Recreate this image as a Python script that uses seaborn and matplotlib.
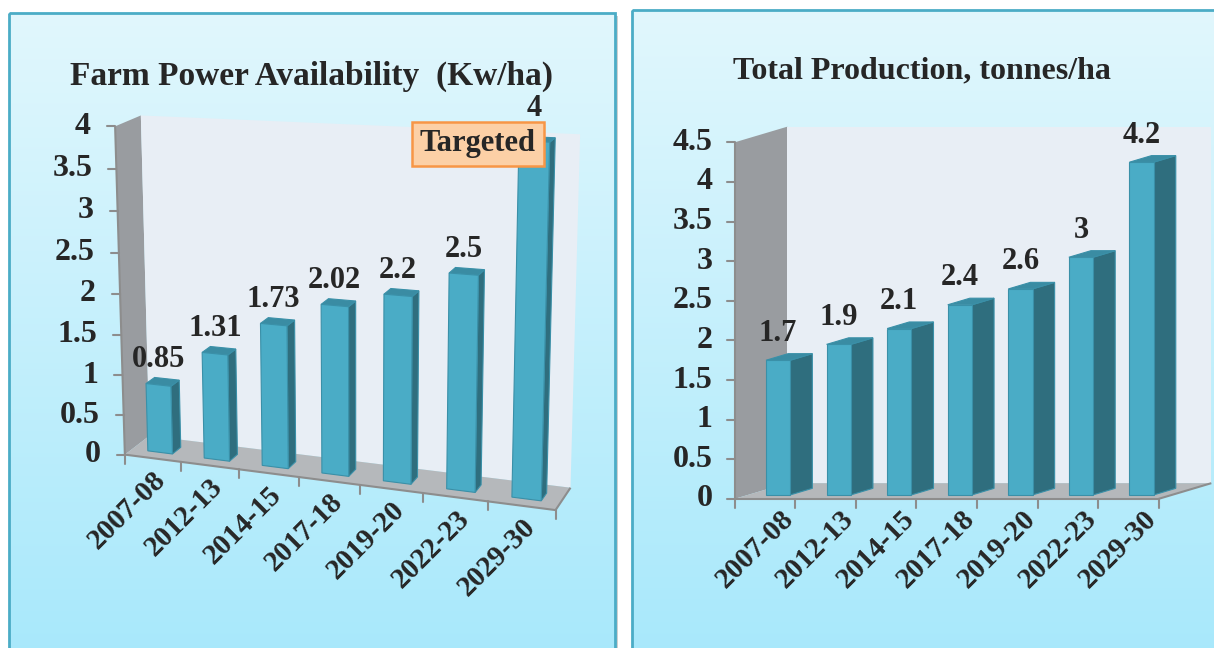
import numpy as np
import matplotlib
matplotlib.use("Agg")
import matplotlib.pyplot as plt
import seaborn as sns
from matplotlib.colors import LinearSegmentedColormap
from matplotlib.patches import Polygon, Rectangle
from matplotlib.transforms import Transform, IdentityTransform

years = ["2007-08", "2012-13", "2014-15", "2017-18", "2019-20", "2022-23", "2029-30"]
farm_power = [0.85, 1.31, 1.73, 2.02, 2.2, 2.5, 4]
production = [1.7, 1.9, 2.1, 2.4, 2.6, 3, 4.2]

W, H = 1214, 648
FRONT, SIDE, TOP, EDGE = "#4aacc6", "#2f6e7e", "#3a8ca3", "#3a90a8"
WALL_SIDE, WALL_BACK, FLOOR, AXIS = "#999ca0", "#e8eef5", "#b5b8bb", "#8d8d8d"

sns.set_style("white")
plt.rcParams["font.family"] = ["Liberation Serif", "DejaVu Serif"]
plt.rcParams["font.weight"] = "bold"


def fit_view(refs, persp=True):
    # camera fit (u=category, v=value, w=depth) -> image pixel
    A, b = [], []
    for (u, v, w), (px, py) in refs:
        A.append([u, v, w, 1, 0, 0, 0, 0, -px * u, -px * v, -px * w]); b.append(px)
        A.append([0, 0, 0, 0, u, v, w, 1, -py * u, -py * v, -py * w]); b.append(py)
    A = np.array(A, float)
    if not persp:
        A[:, 8:] = 0
        A[0::2, 1] = 0
    c = np.linalg.lstsq(A, np.array(b, float), rcond=None)[0]
    if not persp:
        c[8:] = 0
        c[1] = 0

    def view(u, v, w):
        u, v, w = np.broadcast_arrays(np.asarray(u, float), np.asarray(v, float), np.asarray(w, float))
        den = c[8] * u + c[9] * v + c[10] * w + 1
        return ((c[0] * u + c[1] * v + c[2] * w + c[3]) / den,
                (c[4] * u + c[5] * v + c[6] * w + c[7]) / den)
    return view


class Depth(Transform):
    # maps bar data coords (category, value) onto the plane at depth w
    input_dims = output_dims = 2

    def __init__(self, view, w):
        super().__init__()
        self.view, self.w = view, w

    def transform_non_affine(self, values):
        values = np.asarray(values, float).reshape(-1, 2)
        px, py = self.view(values[:, 0], values[:, 1], self.w)
        return np.column_stack([px, H - py])


def draw_panel(ax, view, values, vmax, width, w0, w1, title, title_xy, lab_u,
               tick_gap=22, off=13, lift=None, title_size=23):
    lift = lift or {}
    sns.barplot(x=years, y=values, ax=ax, width=width, color=FRONT, saturation=1,
                edgecolor=EDGE, linewidth=0.8)
    bars = list(ax.patches)
    ax.set_axis_off()
    n = len(years)
    lo, hi = -0.5, n - 0.5

    def poly(pts, **kw):
        u, v, w = np.array(pts, float).T
        px, py = view(u, v, w)
        ax.add_patch(Polygon(np.column_stack([px, H - py]), closed=True,
                             transform=IdentityTransform(), clip_on=False, **kw))

    def line(pts, **kw):
        u, v, w = np.array(pts, float).T
        px, py = view(u, v, w)
        ax.plot(px, H - py, transform=IdentityTransform(), clip_on=False,
                color=AXIS, lw=1.5, solid_capstyle="butt", **kw)

    # walls and floor
    poly([(lo, 0, 0), (lo, vmax, 0), (lo, vmax, 1), (lo, 0, 1)], fc=WALL_SIDE, ec="none", zorder=1)
    poly([(lo, 0, 1), (lo, vmax, 1), (hi, vmax, 1), (hi, 0, 1)], fc=WALL_BACK, ec="none", zorder=1)
    poly([(lo, 0, 0), (hi, 0, 0), (hi, 0, 1), (lo, 0, 1)], fc=FLOOR, ec="none", zorder=1)
    line([(hi, 0, 0), (hi, 0, 1)], zorder=2)

    # axes
    line([(lo, 0, 0), (lo, vmax, 0)], zorder=2)
    line([(lo, 0, 0), (hi, 0, 0)], zorder=2)
    for v in np.arange(0, vmax + 0.01, 0.5):
        px, py = view(lo, v, 0)
        ax.plot([px - 8, px], [H - py, H - py], transform=IdentityTransform(),
                clip_on=False, color=AXIS, lw=1.5)
        ax.text(px - tick_gap, H - py, f"{v:g}", transform=IdentityTransform(),
                ha="right", va="center", fontsize=23, fontweight="bold")
    for k in range(n + 1):
        px, py = view(lo + k, 0, 0)
        ax.plot([px, px], [H - py, H - py - 9], transform=IdentityTransform(),
                clip_on=False, color=AXIS, lw=1.5)
    for i, lab in enumerate(years):
        px, py = view(i + lab_u, 0, 0)
        ax.text(px, H - py - 16, lab, transform=IdentityTransform(), rotation=45,
                rotation_mode="anchor", ha="right", va="center", fontsize=21, fontweight="bold")

    # bars: seaborn front faces projected, plus side and top faces
    for i, (p, val) in enumerate(zip(bars, values)):
        u0, u1, v = p.get_x(), p.get_x() + p.get_width(), p.get_height()
        p.set_transform(Depth(view, w0))
        p.set_clip_on(False)
        p.set_zorder(4)
        poly([(u1, 0, w0), (u1, v, w0), (u1, v, w1), (u1, 0, w1)], fc=SIDE, ec=EDGE, lw=0.8, zorder=3)
        poly([(u0, v, w0), (u1, v, w0), (u1, v, w1), (u0, v, w1)], fc=TOP, ec=EDGE, lw=0.8, zorder=3)
        cx, _ = view((u0 + u1) / 2, v, w0)
        _, ty = view(u1, v, w1)
        ax.text(cx, H - ty + off + lift.get(i, 0), f"{val:g}", transform=IdentityTransform(),
                ha="center", va="baseline", fontsize=22, fontweight="bold", zorder=6)

    ax.text(title_xy[0], H - title_xy[1], title, transform=IdentityTransform(),
            ha="center", va="baseline", fontsize=title_size, fontweight="bold")


fig = plt.figure(figsize=(W / 100, H / 100), dpi=100)
bg = fig.add_axes([0, 0, 1, 1], zorder=0)
sky = LinearSegmentedColormap.from_list("sky", ["#e1f7fd", "#a6e8fb"])
grad = np.linspace(0, 1, 256)[:, None]
for x0, y0, x1 in [(9, 13, 615), (632, 10, 1240)]:
    bg.add_patch(Rectangle((x0 + 3, y0 + 3), x1 - x0, 700, fc="#cfcfcf", ec="none", zorder=0))
    bg.imshow(grad, extent=(x0, x1, 680, y0), cmap=sky, aspect="auto", zorder=1)
    bg.add_patch(Rectangle((x0, y0), x1 - x0, 680 - y0, fc="none", ec="#4bacc6", lw=2, zorder=2))
bg.set_xlim(0, W)
bg.set_ylim(H, 0)
bg.set_axis_off()

left_view = fit_view([
    ((-0.5, 0, 0), (126, 453)), ((-0.5, 4, 0), (113, 125)),
    ((-0.5, 0, 1), (146, 437)), ((-0.5, 4, 1), (143, 117)),
    ((6.5, 0, 1), (572, 485)), ((6.5, 4, 1), (580, 134)), ((6.5, 0, 0), (554, 510)),
    ((0.5, 0, 0), (183, 462)), ((1.5, 0, 0), (240, 468)),
    ((4.5, 0, 0), (423, 496)), ((5.5, 0, 0), (488, 503)),
])
right_view = fit_view([
    ((-0.5, 0, 0), (735, 499)), ((-0.5, 4.5, 0), (735, 142)), ((6.5, 0, 0), (1158, 499)),
    ((-0.5, 0, 1), (787, 483)), ((-0.5, 4.5, 1), (787, 127)), ((6.5, 0, 1), (1212, 483)),
], persp=False)

ax1 = fig.add_axes([0, 0, 1, 1], zorder=1)
draw_panel(ax1, left_view, farm_power, 4, 0.44, 0.3, 0.65,
           "Farm Power Availability  (Kw/ha)", (312, 85), 0.15, tick_gap=24, lift={6: 9},
           title_size=24)
ax1.text(478, H - 144, "Targeted", transform=IdentityTransform(), ha="center", va="center",
         fontsize=22, fontweight="bold", zorder=10,
         bbox=dict(boxstyle="square,pad=0.25", fc="#fcd0a6", ec="#f79646", lw=1.8))

ax2 = fig.add_axes([0, 0, 1, 1], zorder=2)
draw_panel(ax2, right_view, production, 4.5, 0.4, 0.25, 0.67,
           "Total Production, tonnes/ha", (922, 78), 0.4)

fig.savefig("out.png", dpi=100)
